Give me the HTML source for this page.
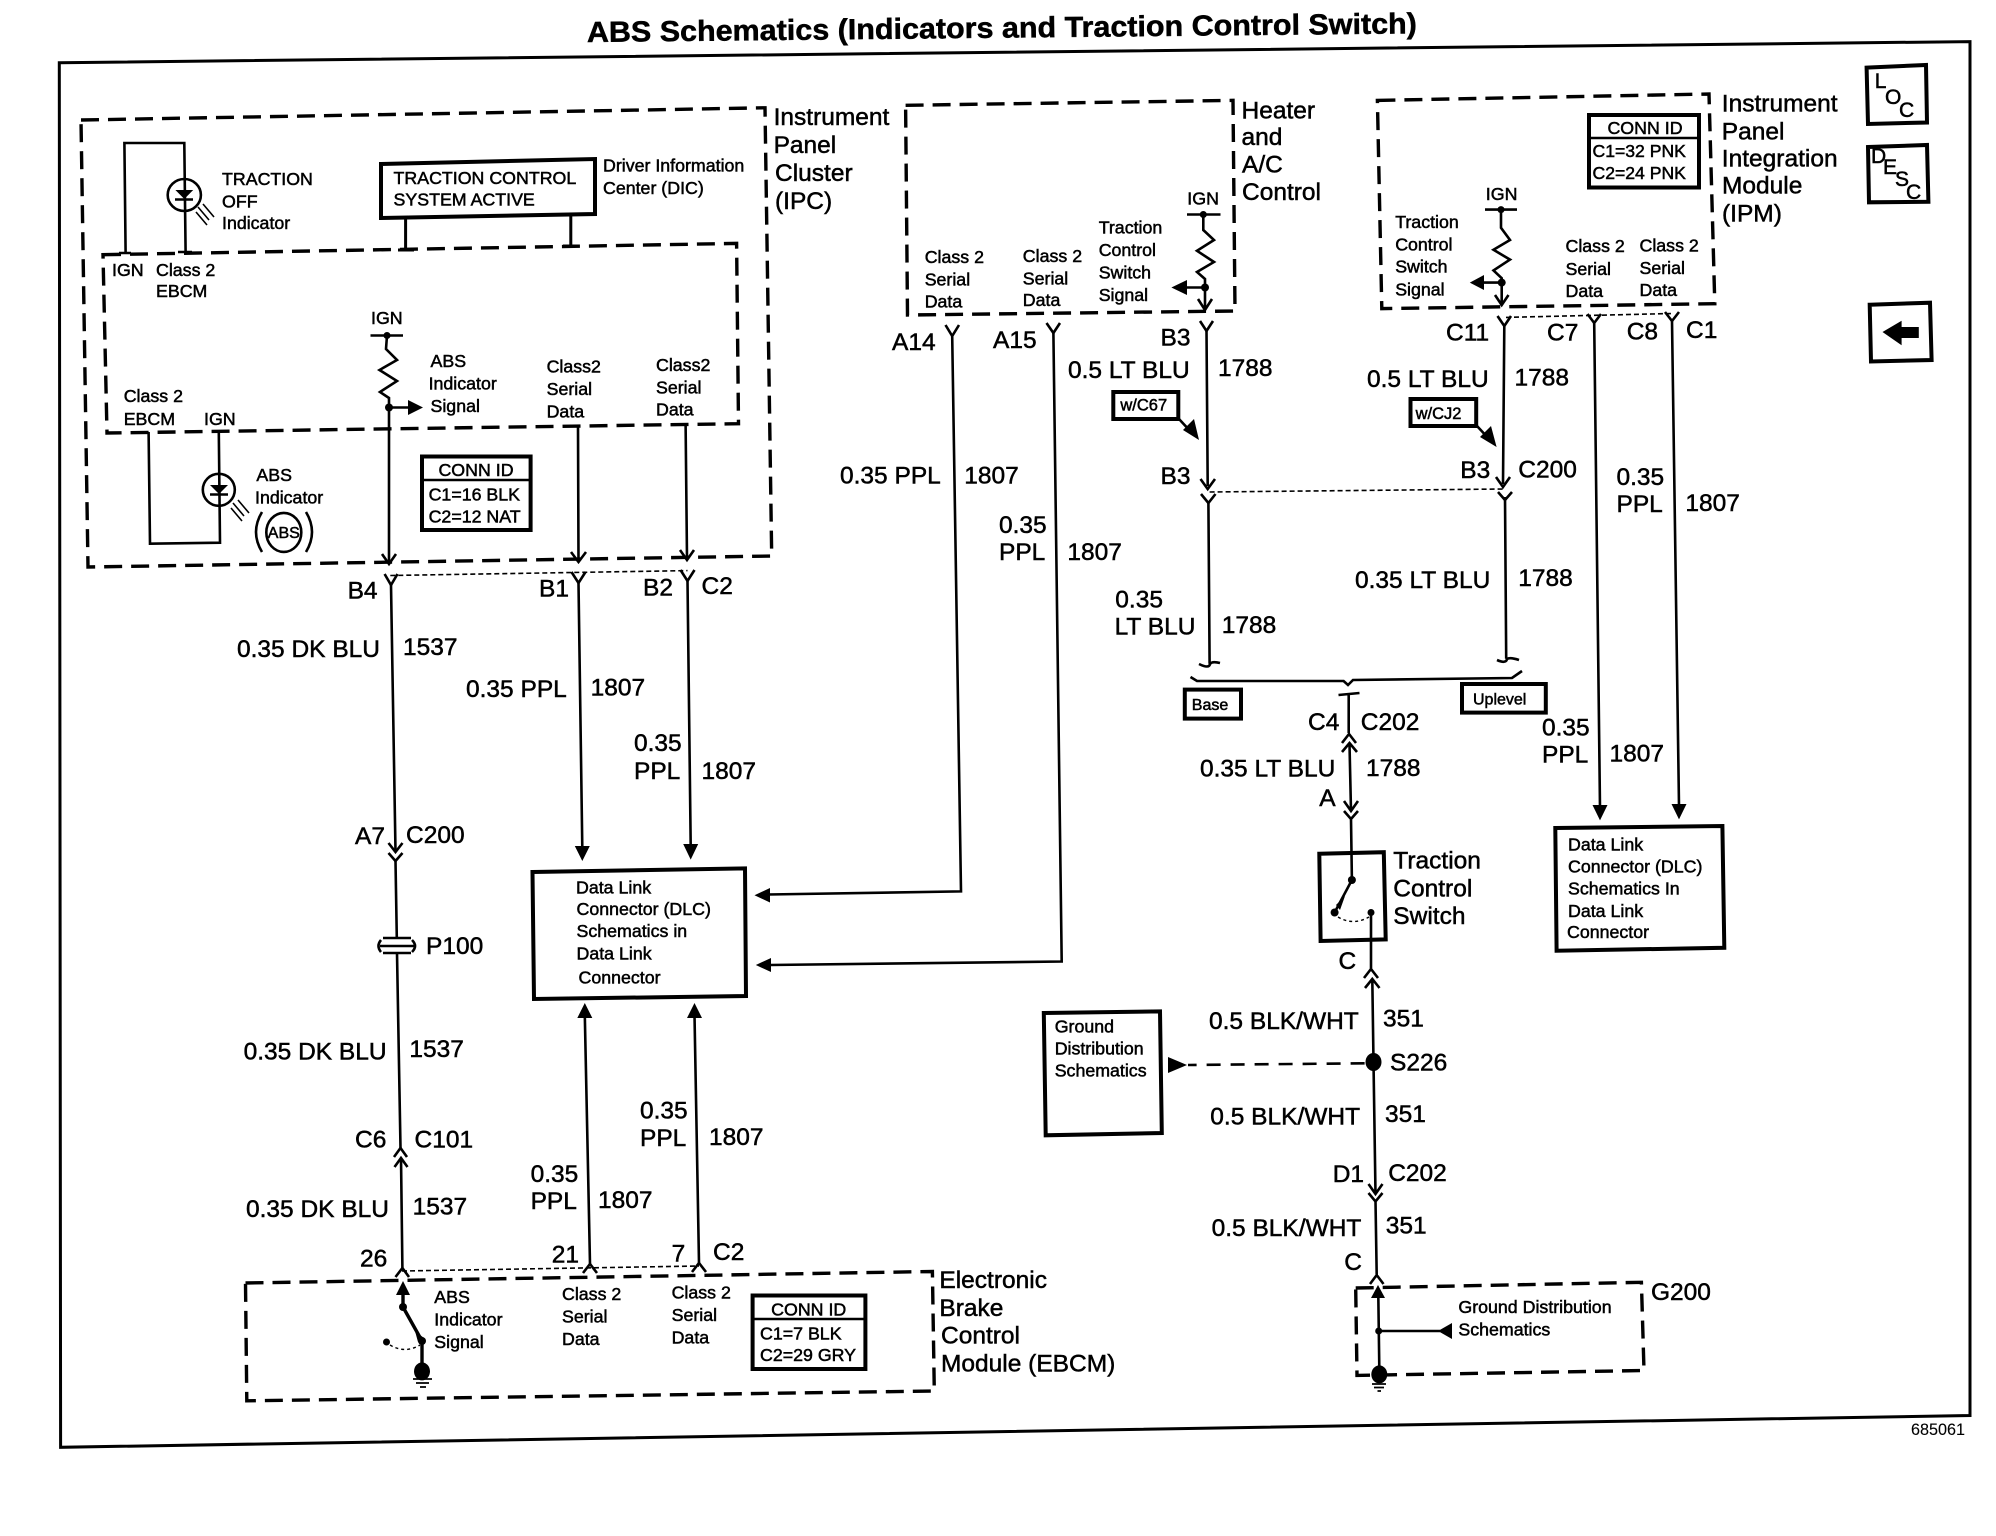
<!DOCTYPE html>
<html><head><meta charset="utf-8"><title>ABS Schematics</title>
<style>
html,body{margin:0;padding:0;background:#fff}
svg{display:block}
text{font-family:"Liberation Sans",sans-serif;fill:#000;stroke:#000;stroke-width:.5}
.b{font-size:24.5px}
.s{font-size:17.8px}
.w{fill:none;stroke:#000;stroke-width:2.6}
.x{fill:none;stroke:#000;stroke-width:4}
.d{fill:none;stroke:#000;stroke-width:3.4;stroke-dasharray:18 9}
.t{fill:none;stroke:#000;stroke-width:1.6;stroke-dasharray:5 3}
.f{fill:#000;stroke:none}
</style></head><body>
<svg xmlns="http://www.w3.org/2000/svg" width="1996" height="1536" viewBox="0 0 1996 1536">
<rect width="1996" height="1536" fill="#fff"/>
<text x="587" y="42" font-weight="bold" font-size="29" textLength="830" lengthAdjust="spacingAndGlyphs" transform="rotate(-.6 587 42)">ABS Schematics (Indicators and Traction Control Switch)</text>
<path class="w" style="stroke-width:3" d="M59.3 62.7L1970 41.6L1970 1415.5L60.6 1447.3Z"/>
<!-- dashed modules -->
<path class="d" d="M81 120L765 107.8L771.7 556L88 567Z"/>
<path class="d" d="M103 254.7L736.6 243.4L738.5 423.7L107 433Z"/>
<path class="d" d="M905.6 105.3L1233 100.4L1235 311L907.5 315Z"/>
<path class="d" d="M1377.4 100.4L1709 94L1714.8 303.7L1381.8 308.6Z"/>
<path class="d" d="M245.5 1283L932.4 1271.5L934.3 1391L246.8 1400.8Z"/>
<path class="d" d="M1355.7 1288L1641.4 1282.3L1644 1370.5L1357 1375.4Z"/>
<path class="t" d="M390.3 575.5L687.5 570.6M402 1271L699 1266M1209.6 492L1504 489M1506 317.4L1672 313.5"/>
<!-- traction off indicator -->
<path class="w" d="M125.6 252L124.4 143L184.3 143L185.6 252M119 253H131M178 252H192"/>
<ellipse class="w" cx="184.3" cy="195" rx="16.6" ry="16"/>
<path class="f" d="M175.4 190H193.2L184.3 199Z"/>
<path class="w" d="M175 199.5H193"/>
<path class="w" style="stroke-width:1.6" d="M198 207L209 220M203 204L214 217M196 212L207 225"/>
<text class="s" x="222" y="185">TRACTION</text><text class="s" x="222" y="207.7">OFF</text><text class="s" x="222" y="229">Indicator</text>
<!-- DIC -->
<path class="x" d="M381 164L595 159L595 214L381 218Z"/>
<text class="s" x="393.5" y="184">TRACTION CONTROL</text><text class="s" x="393.5" y="205.7">SYSTEM ACTIVE</text>
<path class="x" style="stroke-width:3" d="M405.6 218V250M398 250H414M570.8 215V246M563 246H579"/>
<text class="s" x="603" y="171.4">Driver Information</text><text class="s" x="603" y="194">Center (DIC)</text>
<text class="b" x="773.6" y="125">Instrument</text><text class="b" x="773.6" y="153">Panel</text><text class="b" x="775" y="181">Cluster</text><text class="b" x="775" y="209">(IPC)</text>
<text class="s" x="112" y="276">IGN</text><text class="s" x="156" y="276">Class 2</text><text class="s" x="156" y="297">EBCM</text>
<!-- ABS signal -->
<text class="s" x="371" y="324">IGN</text>
<path class="w" d="M370.5 335.5H403M387 335.5L386 349L397 360L379.5 370L397 381L380 392L389 398L389 563M389 407.5H410M578 426L578.5 560M685.6 424L687 558"/>
<circle class="f" cx="387" cy="335.5" r="3.5"/><circle class="f" cx="389" cy="407.5" r="4"/>
<path class="f" d="M408 400L423 407.5L408 415Z"/>
<text class="s" x="430.5" y="367">ABS</text><text class="s" x="428.6" y="389.4">Indicator</text><text class="s" x="430.5" y="412">Signal</text>
<text class="s" x="546.6" y="372.7">Class2</text><text class="s" x="546.6" y="394.8">Serial</text><text class="s" x="546.6" y="417.3">Data</text>
<text class="s" x="656" y="370.8">Class2</text><text class="s" x="656" y="393.3">Serial</text><text class="s" x="656" y="415.3">Data</text>
<text class="s" x="123.7" y="402">Class 2</text><text class="s" x="123.7" y="425">EBCM</text><text class="s" x="204" y="425">IGN</text>
<!-- ABS indicator -->
<path class="w" d="M148.6 432L150 543.7L220 542.7L218.8 432"/>
<ellipse class="w" cx="218.8" cy="489.8" rx="16" ry="16"/>
<path class="f" d="M210 485H228L219 494Z"/><path class="w" d="M210 494.5H228"/>
<path class="w" style="stroke-width:1.6" d="M233 503L244 516M238 500L249 513M231 508L242 521"/>
<text class="s" x="256.4" y="481">ABS</text><text class="s" x="255" y="503.5">Indicator</text>
<ellipse class="w" cx="283.8" cy="532.4" rx="17.5" ry="19.5"/>
<text x="283.8" y="538" font-size="16" text-anchor="middle">ABS</text>
<path class="w" d="M262 512Q250 532 262 552M306 512Q318 532 306 552"/>
<!-- conn id IPC -->
<rect class="x" x="422" y="456.5" width="108.6" height="73.5"/><path class="w" d="M422 480H530"/>
<text class="s" x="476" y="476" text-anchor="middle">CONN ID</text><text class="s" x="428.6" y="500.6">C1=16 BLK</text><text class="s" x="428.6" y="522.6">C2=12 NAT</text>
<!-- chevrons: down -->
<path class="w" d="M382 554L389 564L396 554M571 552L578.5 562L586 552M680 550L687 560L694 550
M384.6 574L391 585L397.5 574M571.5 572L578.5 583L585.5 572M680.5 570L687.5 581L694.5 570
M945.5 325L952.2 336L959 325M1046.5 323L1053.4 333L1060 323
M1200 321L1206.5 331L1213 321M1497.5 316L1504.3 326L1511 316M1587.5 314L1594.2 323L1601 314M1665 312L1672 321L1679 312
M388.5 843L395.5 852L402.5 843M388.5 853L395.5 861L402.5 853"/>
<!-- wires -->
<path class="w" d="M391 585L395.5 851M395.5 861L396.8 938M397 953L400.5 1148M401 1158L402.4 1268
M578.5 583L582.3 848M687.5 581L690.7 846M584.8 1015L590 1264M694.5 1015L699 1263
M952.2 336L961 891.4L768 894.5M1053.4 333L1061.7 961.5L770 965
M1206.5 331L1207.7 486M1208.4 502L1209.6 663.7M1504.3 326L1503 484M1505 497L1506.2 658.8
M1594.2 323L1600 808M1672 321L1679 806"/>
<path class="f" d="M574.8 846H589.8L582.3 861ZM683.2 844H698.2L690.7 859.6ZM577.3 1018H592.3L584.8 1003ZM687 1018H702L694.5 1003ZM754.5 895.3L770 888V902.5ZM755.8 965L771 958V972ZM1592.5 805H1607.5L1600 820.4ZM1671.5 804H1686.5L1679 819.4Z"/>
<!-- carets -->
<path class="w" d="M394 1157L400.5 1148L407 1157M394.5 1167L401 1158L407.5 1167M395.5 1277L402.4 1268L409 1277M583 1273L590 1264L597 1273M692 1272L699 1263L706 1272"/>
<!-- P100 -->
<path class="w" d="M383 938H411M380 946H416M383 953H411"/>
<path class="w" d="M381 940Q376 946 381 952M412 940Q418 946 412 952"/>
<!-- DLC -->
<path class="x" d="M532.5 872L745 868.4L746 996L534 999Z"/>
<text class="s" x="576" y="893.4">Data Link</text><text class="s" x="576.5" y="915">Connector (DLC)</text><text class="s" x="576.5" y="937">Schematics in</text><text class="s" x="576.5" y="959.5">Data Link</text><text class="s" x="578.5" y="983.5">Connector</text>
<!-- left labels -->
<text class="b" x="347.6" y="598.5">B4</text><text class="b" x="539" y="596.6">B1</text><text class="b" x="643" y="595.6">B2</text><text class="b" x="701.5" y="594">C2</text>
<text class="b" x="237" y="657">0.35 DK BLU</text><text class="b" x="403" y="655">1537</text>
<text class="b" x="466" y="697">0.35 PPL</text><text class="b" x="590.6" y="695.5">1807</text>
<text class="b" x="634" y="751">0.35</text><text class="b" x="634" y="779">PPL</text><text class="b" x="701.5" y="779">1807</text>
<text class="b" x="355" y="844">A7</text><text class="b" x="406" y="843">C200</text><text class="b" x="426" y="954">P100</text>
<text class="b" x="243.6" y="1059.4">0.35 DK BLU</text><text class="b" x="409.4" y="1057">1537</text>
<text class="b" x="355" y="1147.6">C6</text><text class="b" x="414.5" y="1147.6">C101</text>
<text class="b" x="246" y="1217">0.35 DK BLU</text><text class="b" x="412.6" y="1214.7">1537</text>
<text class="b" x="360" y="1266.6">26</text><text class="b" x="551.7" y="1262.7">21</text><text class="b" x="671.6" y="1261.7">7</text><text class="b" x="713" y="1260">C2</text>
<text class="b" x="530.6" y="1182">0.35</text><text class="b" x="530.6" y="1208.8">PPL</text><text class="b" x="598" y="1207.8">1807</text>
<text class="b" x="640" y="1118.7">0.35</text><text class="b" x="640" y="1146">PPL</text><text class="b" x="709" y="1145">1807</text>
<!-- EBCM -->
<path class="f" d="M403 1281L410 1295H396Z"/>
<path class="w" style="stroke-width:3.4" d="M403 1290V1307L422 1341V1366"/>
<path class="f" d="M415 1331L424 1338L418 1342Z"/>
<circle class="f" cx="403" cy="1307" r="4"/><circle class="f" cx="422" cy="1341" r="4"/><circle class="f" cx="386.5" cy="1342" r="3.5"/>
<path class="w" style="stroke-width:1.4;stroke-dasharray:3 3" d="M390 1345Q405 1354 420 1345"/>
<ellipse class="f" cx="422" cy="1371.4" rx="8" ry="9"/>
<path class="w" style="stroke-width:1.8" d="M413 1379H432M416 1383H429M420 1387H426"/>
<text class="s" x="434.3" y="1303">ABS</text><text class="s" x="434.3" y="1325.4">Indicator</text><text class="s" x="434.3" y="1348">Signal</text>
<text class="s" x="562" y="1300">Class 2</text><text class="s" x="562" y="1322.4">Serial</text><text class="s" x="562" y="1345">Data</text>
<text class="s" x="671.6" y="1298.4">Class 2</text><text class="s" x="671.6" y="1321">Serial</text><text class="s" x="671.6" y="1343.5">Data</text>
<rect class="x" x="752.6" y="1295.5" width="112.8" height="73.5"/><path class="w" d="M753 1319H865"/>
<text class="s" x="808.7" y="1315.6" text-anchor="middle">CONN ID</text><text class="s" x="760" y="1339.6">C1=7 BLK</text><text class="s" x="760" y="1361">C2=29 GRY</text>
<text class="b" x="939.4" y="1288">Electronic</text><text class="b" x="939.4" y="1316">Brake</text><text class="b" x="941" y="1343.5">Control</text><text class="b" x="941" y="1371.5">Module (EBCM)</text>
<!-- Heater -->
<text class="b" x="1241.5" y="118.5">Heater</text><text class="b" x="1241.5" y="145">and</text><text class="b" x="1242" y="172.4">A/C</text><text class="b" x="1242" y="199.8">Control</text>
<text class="s" x="924.7" y="263">Class 2</text><text class="s" x="924.7" y="285.5">Serial</text><text class="s" x="924.7" y="307.6">Data</text>
<text class="s" x="1022.8" y="262">Class 2</text><text class="s" x="1022.8" y="284.6">Serial</text><text class="s" x="1022.8" y="306">Data</text>
<text class="s" x="1098.7" y="233.6">Traction</text><text class="s" x="1098.7" y="256">Control</text><text class="s" x="1098.7" y="278.7">Switch</text><text class="s" x="1098.7" y="301">Signal</text>
<text class="s" x="1187.3" y="204.7">IGN</text>
<path class="w" d="M1187 214.5H1220.5M1203.3 214.5L1203.3 230L1214 240L1197 250.8L1214 262L1197 272L1205 279L1205 309M1205 287.5H1185M1198 299L1205 310L1212 299"/>
<circle class="f" cx="1203.3" cy="214.5" r="3.5"/><circle class="f" cx="1205" cy="287.5" r="4"/>
<path class="f" d="M1171.4 287.5L1187 280V295Z"/>
<!-- IPM -->
<text class="b" x="1721.8" y="111.7">Instrument</text><text class="b" x="1721.8" y="139.6">Panel</text><text class="b" x="1721.8" y="166.5">Integration</text><text class="b" x="1722" y="193.5">Module</text><text class="b" x="1722" y="221.4">(IPM)</text>
<rect class="x" x="1597" y="115" width="110" height="72.5" transform="translate(-8 0)"/><path class="w" d="M1589 138H1699"/>
<text class="s" x="1645" y="134" text-anchor="middle">CONN ID</text><text class="s" x="1592.5" y="157" style="font-size:17.6px">C1=32 PNK</text><text class="s" x="1592.5" y="178.8" style="font-size:17.6px">C2=24 PNK</text>
<text class="s" x="1485.8" y="199.8">IGN</text>
<path class="w" d="M1485 209.6H1517M1501 209.6L1501 227.8L1510 240L1493.5 249.8L1510 259.6L1493.5 270.4L1501.7 278.2L1501.7 304M1501.7 282.6H1482M1495 295L1501.7 305L1508.5 295"/>
<circle class="f" cx="1501" cy="209.6" r="3.5"/><circle class="f" cx="1501.7" cy="282.6" r="4"/>
<path class="f" d="M1469.8 282.6L1484 275V290Z"/>
<text class="s" x="1395.2" y="227.8">Traction</text><text class="s" x="1395.2" y="250.3">Control</text><text class="s" x="1395.2" y="272.3">Switch</text><text class="s" x="1395.2" y="295.3">Signal</text>
<text class="s" x="1565.5" y="252.2">Class 2</text><text class="s" x="1565.5" y="274.8">Serial</text><text class="s" x="1565.5" y="296.8">Data</text>
<text class="s" x="1639.5" y="251.3">Class 2</text><text class="s" x="1639.5" y="273.8">Serial</text><text class="s" x="1639.5" y="295.8">Data</text>
<!-- top labels -->
<text class="b" x="892" y="350">A14</text><text class="b" x="993" y="348">A15</text><text class="b" x="1160.5" y="345.3">B3</text><text class="b" x="1446" y="340.4">C11</text><text class="b" x="1547" y="340.4">C7</text><text class="b" x="1626.7" y="339.4">C8</text><text class="b" x="1686" y="338">C1</text>
<text class="b" x="840" y="483.4">0.35 PPL</text><text class="b" x="964.3" y="483.4">1807</text>
<text class="b" x="999" y="533">0.35</text><text class="b" x="999" y="559.8">PPL</text><text class="b" x="1067.4" y="559.8">1807</text>
<text class="b" x="1068" y="378">0.5 LT BLU</text><text class="b" x="1218" y="376">1788</text>
<text class="b" x="1367" y="387">0.5 LT BLU</text><text class="b" x="1514.5" y="385.5">1788</text>
<rect class="x" x="1113.3" y="392" width="65" height="27"/><text x="1120.4" y="410.4" font-size="16.5">w/C67</text>
<path class="w" d="M1179 419L1192 433"/><path class="f" d="M1199 440L1183 430L1194 419Z"/>
<rect class="x" x="1410.5" y="399" width="65.7" height="27"/><text x="1415.6" y="418.8" font-size="16.5">w/CJ2</text>
<path class="w" d="M1477 426L1490 440"/><path class="f" d="M1496.6 447L1480 437L1491 426Z"/>
<text class="b" x="1160.5" y="484">B3</text><text class="b" x="1460.3" y="478">B3</text><text class="b" x="1518.3" y="477.5">C200</text>
<path class="w" d="M1200.5 479L1207.7 489L1215 479M1201 494L1208.4 503L1215.5 494M1496 477L1503 487L1510 477M1498 492L1505 500L1512 492"/>
<text class="b" x="1616.5" y="485">0.35</text><text class="b" x="1616.5" y="511.8">PPL</text><text class="b" x="1685.4" y="510.8">1807</text>
<text class="b" x="1355" y="587.8">0.35 LT BLU</text><text class="b" x="1518.3" y="585.8">1788</text>
<text class="b" x="1115.3" y="607.3">0.35</text><text class="b" x="1114.6" y="634.3">LT BLU</text><text class="b" x="1221.8" y="632.8">1788</text>
<!-- hooks and brace -->
<path class="w" d="M1199 664Q1209 669 1210 664Q1212 661 1220 663M1497 660Q1506 664 1507 659Q1510 657 1519 660"/>
<path class="w" d="M1190.5 677L1197 681L1343.6 681L1348 685L1353 680L1512 678L1522 671"/>
<rect class="x" x="1184.8" y="689.6" width="56.2" height="29"/><text x="1191.8" y="710" font-size="16">Base</text>
<rect class="x" x="1462" y="684" width="83.8" height="28.6"/><text x="1473" y="704.3" font-size="16">Uplevel</text>
<path class="w" d="M1338.5 695L1349 694L1359.5 693M1348.7 694V733M1342 743L1349 734L1356 743M1342 752L1349.5 743L1357 752M1349.5 744L1351 811M1344 801L1351 811L1358 801M1344 811L1351 819L1358 811M1351 819L1351.9 880"/>
<text class="b" x="1308" y="730">C4</text><text class="b" x="1360.8" y="730">C202</text>
<text class="b" x="1200" y="776.5">0.35 LT BLU</text><text class="b" x="1366" y="776">1788</text>
<text class="b" x="1319.3" y="806">A</text>
<text class="b" x="1542" y="735.7">0.35</text><text class="b" x="1542" y="762.6">PPL</text><text class="b" x="1609.5" y="761.6">1807</text>
<!-- DLC 2 -->
<path class="x" d="M1555.3 828L1722.4 826L1724.3 947.8L1556.6 950.7Z"/>
<text class="s" x="1568" y="850.3">Data Link</text><text class="s" x="1568" y="872.3">Connector (DLC)</text><text class="s" x="1568" y="894.4">Schematics In</text><text class="s" x="1568" y="917">Data Link</text><text class="s" x="1567" y="938">Connector</text>
<!-- switch -->
<path class="x" d="M1319.3 853.7L1383.8 852.2L1385.7 939.4L1320.6 941Z"/>
<path class="w" d="M1351.9 880L1334.6 912.5M1371 912.5V969M1364 978L1371 969L1378 978M1365 988L1372.3 979L1379.5 988M1372.3 979L1373.5 1062L1375.5 1194M1368.5 1184L1375.5 1194L1382.5 1184M1368.5 1193L1375.5 1201.5L1382.5 1193M1375.5 1201L1376.7 1275M1370 1284L1376.7 1275L1383.5 1284"/>
<path class="f" d="M1336 905L1345 896L1340 910Z"/>
<circle class="f" cx="1351.9" cy="880" r="4"/><circle class="f" cx="1334.6" cy="912.5" r="4"/><circle class="f" cx="1371" cy="912.5" r="3.5"/>
<path class="w" style="stroke-width:1.4;stroke-dasharray:3 3" d="M1338 917Q1353 926 1369 917"/>
<text class="b" x="1393.3" y="868.4">Traction</text><text class="b" x="1393.3" y="896.3">Control</text><text class="b" x="1393.3" y="923.8">Switch</text>
<text class="b" x="1338.5" y="968.8">C</text>
<text class="b" x="1209" y="1029">0.5 BLK/WHT</text><text class="b" x="1383" y="1026.6">351</text>
<ellipse class="f" cx="1373.5" cy="1062" rx="8" ry="9"/>
<text class="b" x="1390" y="1070.7">S226</text>
<text class="b" x="1210.3" y="1124.6">0.5 BLK/WHT</text><text class="b" x="1385" y="1122">351</text>
<text class="b" x="1332.7" y="1182">D1</text><text class="b" x="1388.2" y="1181">C202</text>
<text class="b" x="1211.6" y="1235.8">0.5 BLK/WHT</text><text class="b" x="1385.7" y="1233.3">351</text>
<text class="b" x="1344.2" y="1270">C</text><text class="b" x="1651" y="1300">G200</text>
<!-- ground distribution -->
<path class="x" d="M1043.8 1013L1160 1011.4L1161.8 1133L1045.7 1135.3Z"/>
<text class="s" x="1054.7" y="1032.5">Ground</text><text class="s" x="1054.7" y="1054.5">Distribution</text><text class="s" x="1054.7" y="1076.6">Schematics</text>
<path class="w" style="stroke-dasharray:14 10" d="M1364.6 1063.3L1188 1065"/>
<path class="f" d="M1168 1057L1187 1065L1168 1073Z"/>
<path class="f" d="M1378 1285L1385 1298H1371Z"/>
<path class="w" d="M1378.3 1295L1379.3 1368M1378.7 1331H1440"/>
<circle class="f" cx="1378.7" cy="1331" r="3.5"/>
<path class="f" d="M1438 1331L1452 1323V1339Z"/>
<ellipse class="f" cx="1379.3" cy="1374.4" rx="8" ry="9"/>
<path class="w" style="stroke-width:1.8" d="M1372 1384H1386M1374 1387.5H1384M1377.5 1391H1381"/>
<text class="s" x="1458.4" y="1313">Ground Distribution</text><text class="s" x="1458.4" y="1335.7">Schematics</text>
<text x="1911" y="1435" font-size="16.2" style="stroke-width:.1">685061</text>
<!-- side buttons -->
<path class="x" d="M1866.6 67.6L1926 65L1927 122.5L1868 124Z"/>
<text x="1874.8" y="88" font-size="21">L</text><text x="1885" y="104" font-size="21">O</text><text x="1899" y="117" font-size="21">C</text>
<path class="x" d="M1868 147L1927 145L1928.4 201.8L1869 202.3Z"/>
<text x="1871" y="163" font-size="21">D</text><text x="1883" y="174" font-size="21">E</text><text x="1895" y="186" font-size="21">S</text><text x="1906" y="199" font-size="21">C</text>
<path class="x" d="M1869.7 304.7L1930 302.7L1931.6 360L1871 361.5Z"/>
<path class="f" d="M1882.5 332L1901.6 320.8V327H1918.8V338H1901.6V345.3Z"/>
</svg>
</body></html>
